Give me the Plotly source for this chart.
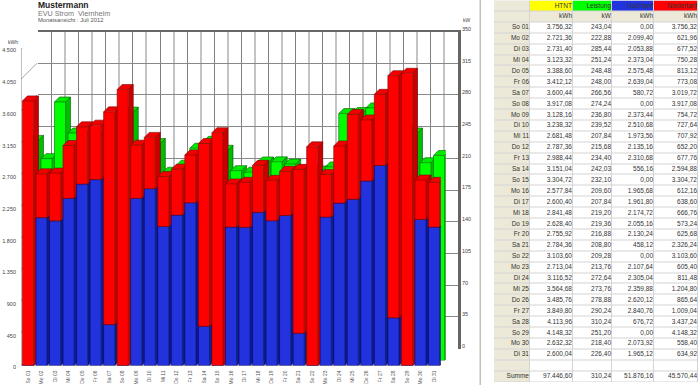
import plotly.graph_objects as go

W, H = 700, 385

days = ["So 01","Mo 02","Di 03","Mi 04","Do 05","Fr 06","Sa 07","So 08","Mo 09","Di 10","Mi 11","Do 12","Fr 13","Sa 14","So 15","Mo 16","Di 17","Mi 18","Do 19","Fr 20","Sa 21","So 22","Mo 23","Di 24","Mi 25","Do 26","Fr 27","Sa 28","So 29","Mo 30","Di 31"]
htnt = [3756.32,2721.36,2731.40,3123.32,3388.60,3412.12,3600.44,3917.08,3128.16,3238.32,2681.48,2787.36,2988.44,3151.04,3304.72,2577.84,2600.40,2841.48,2628.40,2755.92,2784.36,3103.60,2713.04,3116.52,3564.68,3485.76,3849.80,4113.96,4148.32,2632.32,2600.04]
leistung = [243.04,222.88,285.44,251.24,248.48,248.00,266.56,274.24,236.80,239.52,207.84,215.68,234.40,242.03,232.10,209.60,207.84,219.20,219.36,216.88,208.80,209.28,213.76,272.64,273.76,278.88,290.24,310.24,251.20,218.40,226.40]
hochtarif = [0.00,2099.40,2053.88,2373.04,2575.48,2639.04,580.72,0.00,2373.44,2510.68,1973.56,2135.16,2310.68,556.16,0.00,1965.68,1961.80,2174.72,2055.16,2130.24,458.12,0.00,2107.64,2305.04,2359.88,2620.12,2840.76,676.72,0.00,2073.92,1965.12]
niedertarif = [3756.32,621.96,677.52,750.28,813.12,773.08,3019.72,3917.08,754.72,727.64,707.92,652.20,677.76,2594.88,3304.72,612.16,638.60,666.76,573.24,625.68,2326.24,3103.60,605.40,811.48,1204.80,865.64,1009.04,3437.24,4148.32,558.40,634.92]
summe = [97446.60, 310.24, 51876.16, 45570.44]
headers = ["HTNT","Leistung","Hochtarif","Niedertarif"]
header_colors = ["#FFFF00","#00FF00","#2233DD","#FF0000"]
units = ["kWh","kW","kWh","kWh"]
kwh_ticks = list(range(0, 4501, 450))
kw_ticks = list(range(0, 351, 35))

FONT = "Liberation Sans"

def de(v, dec=2):
    s = f"{v:,.{dec}f}"
    return s.replace(",", "#").replace(".", ",").replace("#", ".")

def dx(a, b):
    return [a / W, b / W]
def dy(top, bottom):
    return [1 - bottom / H, 1 - top / H]

fig = go.Figure()
fig.update_layout(template="none")

# plot geometry in pixels
FX0, FX1 = 21.2, 440.8          # front plane, 31 categories
FY0, FY1 = 48.5, 365.5          # front plane, top/bottom
XR = [-0.5, 30.5]
BACK = 17.0                     # wall depth
GSH = 5.0                       # green bars stand behind the red/blue ones
DEPTH = 5.0                     # bar depth
ux = (FX1 - FX0) / 31
uy = (FY1 - FY0) / 4500
DX, DY = DEPTH / ux, DEPTH / uy
BW = 0.82

axis_off = dict(visible=False, fixedrange=True, automargin=False)

# (x, y)  back wall
even = [i - 0.5 for i in range(0, 32, 2)]
odd = [i - 0.5 for i in range(1, 32, 2)]
fig.update_layout(
    xaxis=dict(domain=dx(FX0 + BACK, FX1 + BACK), range=XR, anchor="y", side="top", showticklabels=False, ticks="",
               tickmode="array", tickvals=even, showgrid=True, gridcolor="#C4C4C4", gridwidth=2, zeroline=False,
               minor=dict(tickmode="array", tickvals=odd, showgrid=True, gridcolor="#808080", gridwidth=1, ticks=""),
               showline=True, linecolor="#666666", linewidth=2, fixedrange=True, automargin=False),
    yaxis=dict(domain=dy(FY0 - BACK, FY1 - BACK), range=[0, 350], anchor="x", side="right", showticklabels=False, ticks="",
               tickmode="array", tickvals=kw_ticks, showgrid=True, gridcolor="#888888", gridwidth=1, zeroline=False,
               showline=True, linecolor="#666666", linewidth=3, fixedrange=True, automargin=False),
)
fig.add_trace(go.Scatter(x=[None], y=[None], xaxis="x", yaxis="y", hoverinfo="skip"))

# shared layouts for the bar layers
def layer(n, shift):
    fig.layout[f"xaxis{n}"] = dict(domain=dx(FX0 + shift, FX1 + shift), range=XR, anchor=f"y{n}", **axis_off)

def polys(vals0, vals1, kind):
    xs, ys = [], []
    for i, (a, b) in enumerate(zip(vals0, vals1)):
        l, r = i - BW / 2, i + BW / 2
        if kind == "side":
            xs += [r, r + DX, r + DX, r, None]
            ys += [a, a + DY, b + DY, b, None]
        else:
            xs += [l, l + DX, r + DX, r, None]
            ys += [b, b + DY, b + DY, b, None]
    return xs, ys

def poly_trace(xs, ys, fill, line, ax, width=0.6):
    fig.add_trace(go.Scatter(x=xs, y=ys, mode="lines", fill="toself", fillcolor=fill,
                             line=dict(color=line, width=width), xaxis=f"x{ax}", yaxis=f"y{ax}",
                             cliponaxis=False, hoverinfo="skip"))

# green layers: kW scale, sitting one bar depth behind the front plane
G_DX = DEPTH / ux
G_DY = DEPTH / (FY1 - FY0) * 350
for n in (2, 3):
    layer(n, GSH)
    fig.layout[f"yaxis{n}"] = dict(domain=dy(FY0 - GSH, FY1 - GSH), range=[0, 350], anchor=f"x{n}", **axis_off)
gs_x, gs_y, gt_x, gt_y = [], [], [], []
for i, v in enumerate(leistung):
    l, r = i - BW / 2, i + BW / 2
    gs_x += [r, r + G_DX, r + G_DX, r, None]
    gs_y += [0, G_DY, v + G_DY, v, None]
    gt_x += [l, l + G_DX, r + G_DX, r, None]
    gt_y += [v, v + G_DY, v + G_DY, v, None]
poly_trace(gs_x, gs_y, "#00BE00", "#005000", 2)
poly_trace(gt_x, gt_y, "#00E800", "#006000", 2)
fig.add_trace(go.Bar(x=list(range(31)), y=leistung, width=BW, marker=dict(color="#00FF00", line=dict(color="#006000", width=0.6)),
                     xaxis="x3", yaxis="y3", hoverinfo="skip"))

# frame and left wall, red/blue extrusions
for n in (4, 5):
    layer(n, 0)
    fig.layout[f"yaxis{n}"] = dict(domain=dy(FY0, FY1), range=[0, 4500], anchor=f"x{n}", **axis_off)

LX = -0.5 - 1.2 / ux
BDX, BDY = BACK / ux, BACK / uy
wx, wy = [], []
for v in kwh_ticks[1:-1]:
    wx += [LX, LX + BDX, None]
    wy += [v, v + BDY, None]
fig.add_trace(go.Scatter(x=wx, y=wy, mode="lines", line=dict(color="#A8A8A8", width=1), xaxis="x4", yaxis="y4",
                         cliponaxis=False, hoverinfo="skip"))
fig.add_trace(go.Scatter(x=[LX, LX, None, LX, LX + BDX, None, 30.5, 30.5 + BDX],
                         y=[0, 4500, None, 4500, 4500 + BDY, None, 0, BDY],
                         mode="lines", line=dict(color="#666666", width=3), xaxis="x4", yaxis="y4",
                         cliponaxis=False, hoverinfo="skip"))
fig.add_trace(go.Scatter(x=[LX, 30.5], y=[0, 0], mode="lines", line=dict(color="#666666", width=2),
                         xaxis="x4", yaxis="y4", cliponaxis=False, hoverinfo="skip"))

zero = [0.0] * 31
xs, ys = polys(zero, hochtarif, "side")
poly_trace(xs, ys, "#101C8C", "#000060", 4)
xs, ys = polys(hochtarif, htnt, "side")
poly_trace(xs, ys, "#C80000", "#700000", 4)
xs, ys = polys(hochtarif, htnt, "top")
poly_trace(xs, ys, "#F00000", "#800000", 4)

fig.add_trace(go.Bar(x=list(range(31)), y=hochtarif, width=BW, marker=dict(color="#2233DD", line=dict(color="#000070", width=0.6)),
                     xaxis="x5", yaxis="y5", hoverinfo="skip"))
fig.add_trace(go.Bar(x=list(range(31)), y=niedertarif, base=hochtarif, width=BW, marker=dict(color="#FF0000", line=dict(color="#800000", width=0.6)),
                     xaxis="x5", yaxis="y5", hoverinfo="skip"))
fig.layout.xaxis5.update(visible=True, tickmode="array", tickvals=list(range(31)), ticktext=days, tickangle=-90,
                         tickfont=dict(family=FONT, size=5, color="#555555"), ticks="", showgrid=False, zeroline=False,
                         showline=False, ticklabelstandoff=3)

# tick label axes, left kWh and right kW
fig.layout.xaxis7 = dict(domain=dx(17, 30), range=[0, 1], anchor="y7", **axis_off)
fig.layout.yaxis7 = dict(domain=dy(FY0 + 2, FY1 + 2), range=[0, 4500], anchor="x7", side="left", tickmode="array",
                         tickvals=kwh_ticks, ticktext=[de(v, 0) for v in kwh_ticks], ticks="", showgrid=False,
                         zeroline=False, showline=False, tickfont=dict(family=FONT, size=5.5, color="#444444"), fixedrange=True, automargin=False)
fig.add_trace(go.Scatter(x=[None], y=[None], xaxis="x7", yaxis="y7", hoverinfo="skip"))
fig.layout.xaxis8 = dict(domain=dx(450, 461), range=[0, 1], anchor="y8", **axis_off)
fig.layout.yaxis8 = dict(domain=dy(FY0 - BACK - 2.5, FY1 - BACK - 2.5), range=[0, 350], anchor="x8", side="right", tickmode="array",
                         tickvals=kw_ticks, ticktext=[str(v) for v in kw_ticks], ticks="", showgrid=False,
                         zeroline=False, showline=False, tickfont=dict(family=FONT, size=5.5, color="#444444"), fixedrange=True, automargin=False)
fig.add_trace(go.Scatter(x=[None], y=[None], xaxis="x8", yaxis="y8", hoverinfo="skip"))

# table
edges = [494, 530, 573, 612, 654, 698]
n_rows = 35
idx = {c: k + 2 for k, c in enumerate(header_colors)}
z = []
for r in range(n_rows):
    if r == 0:
        z.append([0] + [idx[c] for c in header_colors])
    elif r == 1:
        z.append([0] * 5)
    else:
        z.append([0] + [1] * 4)
cols = ["#ECE9D8", "#FFFFFF"] + header_colors
cs = []
nc = len(cols)
for k, c in enumerate(cols):
    cs += [[k / nc, c], [(k + 1) / nc, c]]
fig.add_trace(go.Heatmap(x=edges, y=list(range(n_rows + 1)), z=z, zmin=0, zmax=nc, colorscale=cs, showscale=False,
                         xgap=1, ygap=1, xaxis="x6", yaxis="y6", hoverinfo="skip"))
fig.layout.xaxis6 = dict(domain=dx(494, 698), range=[494, 698], anchor="y6", **axis_off)
fig.layout.yaxis6 = dict(domain=dy(0.5, 382), range=[35, 0], anchor="x6", **axis_off)

txt = dict(family=FONT, size=6.5, color="#333333")
fig.add_trace(go.Scatter(x=[529] * 32, y=[i + 2.5 for i in range(31)] + [34.5], text=days + ["Summe"], mode="text",
                         textposition="middle left", textfont=txt, xaxis="x6", yaxis="y6", hoverinfo="skip"))
columns = [htnt, leistung, hochtarif, niedertarif]
for c, vals in enumerate(columns):
    right = edges[c + 2] - 1
    ys = [0.5, 1.5] + [i + 2.5 for i in range(31)] + [34.5]
    tx = [headers[c], units[c]] + [de(v) for v in vals] + [de(summe[c])]
    fig.add_trace(go.Scatter(x=[right] * len(ys), y=ys, text=tx, mode="text", textposition="middle left",
                             textfont=txt, xaxis="x6", yaxis="y6", hoverinfo="skip"))

def note(x, y, text, size, color="#000000", anchor="left"):
    fig.add_annotation(xref="paper", yref="paper", x=x / W, y=1 - y / H, text=text, showarrow=False, xanchor=anchor,
                       yanchor="middle", font=dict(family=FONT, size=size, color=color), borderpad=0, xshift=0)

note(36.5, 5.5, "<b>Mustermann</b>", 8.5, "#222222")
note(36.5, 13.5, "EVU Strom  Viernheim", 7.2, "#777777")
note(36.5, 20.5, "Monatsansicht : Juli 2012", 5.8, "#555555")
note(7, 42, "kWh", 5, "#444444")
note(461.5, 20, "kW", 5, "#444444")

fig.update_layout(
    width=W, height=H, margin=dict(l=0, r=0, t=0, b=0, autoexpand=False), showlegend=False, barmode="overlay",
    paper_bgcolor="#FFFFFF", plot_bgcolor="rgba(0,0,0,0)", font=dict(family=FONT),
    shapes=[
        dict(type="rect", xref="x6", yref="y6", x0=494, x1=698, y0=0, y1=35, layer="below",
             fillcolor="#D4D4D4", line_width=0),
        dict(type="rect", xref="paper", yref="paper", x0=479.5 / W, x1=481 / W, y0=0, y1=1, layer="below",
             fillcolor="#C0C0C0", line_width=0),
    ],
)
fig.write_html("out.html", config=dict(displayModeBar=False),
               post_script="document.body.style.margin='0';document.body.style.overflow='hidden';")
